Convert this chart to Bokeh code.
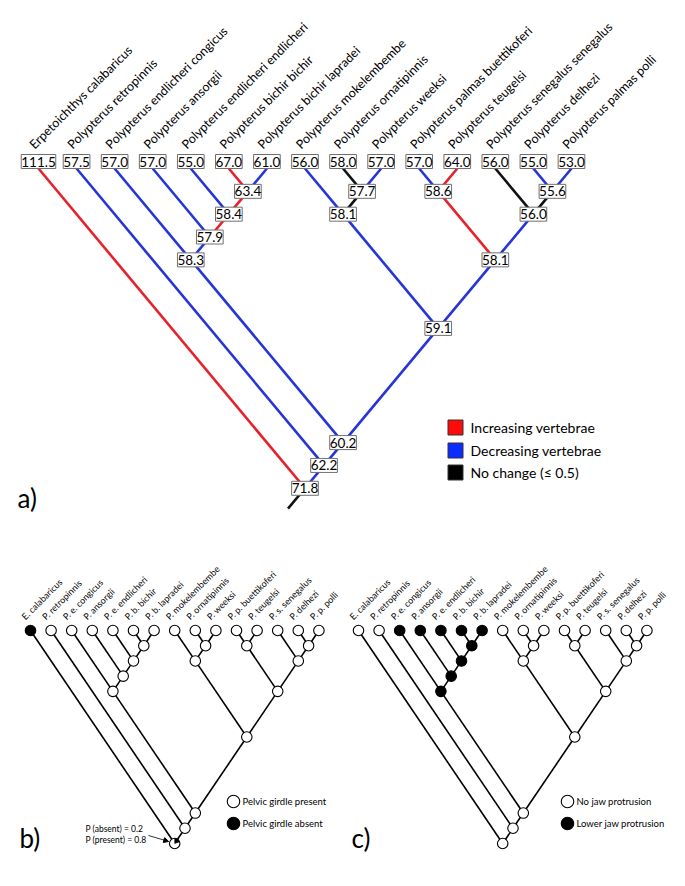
import numpy as np
from bokeh.plotting import figure
from bokeh.models import Range1d, Arrow, NormalHead
from bokeh.core.properties import value
from bokeh.embed import file_html
from bokeh.resources import INLINE

# ---------------- data ----------------
full_names = ["Erpetoichthys calabaricus", "Polypterus retropinnis", "Polypterus endlicheri congicus",
              "Polypterus ansorgii", "Polypterus endlicheri endlicheri", "Polypterus bichir bichir",
              "Polypterus bichir lapradei", "Polypterus mokelembembe", "Polypterus ornatipinnis",
              "Polypterus weeksi", "Polypterus palmas buettikoferi", "Polypterus teugelsi",
              "Polypterus senegalus senegalus", "Polypterus delhezi", "Polypterus palmas polli"]
short_names = ["E. calabaricus", "P. retropinnis", "P. e. congicus", "P. ansorgii", "P. e. endlicheri",
               "P. b. bichir", "P. b. lapradei", "P. mokelembembe", "P. ornatipinnis", "P. weeksi",
               "P. p. buettikoferi", "P. teugelsi", "P. s. senegalus", "P. delhezi", "P. p. polli"]
leaf_vertebrae = [111.5, 57.5, 57.0, 57.0, 55.0, 67.0, 61.0, 56.0, 58.0, 57.0, 57.0, 64.0, 56.0, 55.0, 53.0]
leaf_change = ["inc", "dec", "dec", "dec", "dec", "inc", "dec", "dec", "none", "dec", "dec", "inc", "none", "dec", "dec"]

# internal clades (first leaf, last leaf); the first one is the root
clade_first = [0, 1, 2, 2, 3, 4, 5, 7, 7, 8, 10, 10, 12, 13]
clade_last = [14, 14, 14, 6, 6, 6, 6, 14, 9, 9, 14, 11, 14, 14]
clade_vertebrae = [71.8, 62.2, 60.2, 58.3, 57.9, 58.4, 63.4, 59.1, 58.1, 57.7, 58.1, 58.6, 56.0, 55.6]
clade_change = ["none", "dec", "dec", "dec", "dec", "inc", "inc", "dec", "dec", "none", "dec", "inc", "dec", "none"]

pelvic_leaf_absent = [1, 0, 0, 0, 0, 0, 0, 0, 0, 0, 0, 0, 0, 0, 0]
pelvic_clade_absent = [0.2, 0, 0, 0, 0, 0, 0, 0, 0, 0, 0, 0, 0, 0]
jaw_leaf = [0, 0, 1, 1, 1, 1, 1, 0, 0, 0, 0, 0, 0, 0, 0]
jaw_clade = [0, 0, 0, 1, 1, 1, 1, 0, 0, 0, 0, 0, 0, 0]

legend_a = ["Increasing vertebrae", "Decreasing vertebrae", "No change (\u2264 0.5)"]
legend_a_keys = ["inc", "dec", "none"]
legend_b = ["Pelvic girdle present", "Pelvic girdle absent"]
legend_c = ["No jaw protrusion", "Lower jaw protrusion"]
root_note = ["P (absent) = 0.2", "P (present) = 0.8"]

# ---------------- styles ----------------
change_color = {"inc": "#e8202a", "dec": "#2535d8", "none": "#111111"}
legend_fill = {"inc": "#ff0a0a", "dec": "#0a2cff", "none": "#000000"}
FONT = "Lato"

n_leaf = len(full_names)
nodes = [(i, i) for i in range(n_leaf)] + list(zip(clade_first, clade_last))


def parent_of(k):
    f, l = nodes[k]
    best, best_span = None, None
    for j in range(n_leaf, len(nodes)):
        if j == k:
            continue
        a, b = nodes[j]
        if a <= f and l <= b and (b - a) > (l - f):
            if best is None or (b - a) < best_span:
                best, best_span = j, b - a
    return best


parents = [parent_of(k) for k in range(len(nodes))]
root = n_leaf


def layout(x0, dx, y0, slope):
    xs, ys = [], []
    for f, l in nodes:
        xs.append(x0 + dx * (f + l) / 2.0)
        ys.append(y0 + slope * dx * (l - f) / 2.0)
    return xs, ys


p = figure(width=669, height=870, x_range=Range1d(0, 669), y_range=Range1d(870, 0),
           output_backend="svg", toolbar_location=None, min_border=0)
p.axis.visible = False
p.grid.visible = False
p.outline_line_color = None
p.background_fill_color = "white"

# ================= panel a =================
ax, ay = layout(38, 38.07, 168, 1.2)
changes = leaf_change + clade_change
seg = {"x0": [], "y0": [], "x1": [], "y1": [], "c": []}
for k in range(len(nodes)):
    par = parents[k]
    if par is None:
        continue
    seg["x0"].append(ax[k]); seg["y0"].append(ay[k])
    seg["x1"].append(ax[par]); seg["y1"].append(ay[par])
    seg["c"].append(change_color[changes[k]])
# root stub
seg["x0"].append(ax[root]); seg["y0"].append(ay[root])
seg["x1"].append(ax[root] - 17); seg["y1"].append(ay[root] + 17 * 1.2)
seg["c"].append(change_color[clade_change[0]])
p.segment(x0="x0", y0="y0", x1="x1", y1="y1", color="c", line_width=2.6, source=seg)

# value boxes
vals = ["%.1f" % v for v in leaf_vertebrae + clade_vertebrae]
bx = ax
by = [ay[k] - 7 if k < n_leaf else ay[k] for k in range(len(nodes))]
p.text(x=bx, y=by, text=vals, text_font=value(FONT), text_font_size="13.5px",
       text_align="center", text_baseline="middle", text_color="black",
       background_fill_color="white", border_line_color="#707070", border_line_width=1,
       padding=(0, 2))

# leaf labels
p.text(x=[ax[i] - 7 for i in range(n_leaf)], y=[146] * n_leaf, text=full_names,
       angle=np.pi / 4, text_font=value(FONT), text_font_size="12.5px",
       text_align="left", text_baseline="alphabetic", text_color="black")

# legend a
ly = [427, 450, 472]
p.rect(x=[455] * 3, y=ly, width=15, height=15, fill_color=[legend_fill[k] for k in legend_a_keys],
       line_color="#333333", line_width=1)
p.text(x=[470] * 3, y=ly, text=legend_a, text_font=value(FONT), text_font_size="14px",
       text_align="left", text_baseline="middle", text_color="black")
p.text(x=[17], y=[497], text=["a)"], text_font=value(FONT), text_font_size="26px",
       text_align="left", text_baseline="middle", text_color="black")


# ================= panels b, c =================
def small_tree(x0, leaf_state, clade_state, legend_labels, letter, legend_x, letter_x):
    sx, sy = layout(x0, 20.6, 630, 1.477)
    s = {"x0": [], "y0": [], "x1": [], "y1": []}
    for k in range(len(nodes)):
        par = parents[k]
        if par is None:
            continue
        s["x0"].append(sx[k]); s["y0"].append(sy[k])
        s["x1"].append(sx[par]); s["y1"].append(sy[par])
    p.segment(x0="x0", y0="y0", x1="x1", y1="y1", color="black", line_width=1.6, source=s)
    states = list(leaf_state) + list(clade_state)
    fills = ["black" if st >= 0.5 else "white" for st in states]
    p.scatter(x=sx, y=sy, size=10.5, marker="circle", fill_color=fills, line_color="black", line_width=1.1)
    p.text(x=[sx[i] - 7.5 for i in range(n_leaf)], y=[617.5] * n_leaf, text=short_names,
           angle=np.pi / 4, text_font=value(FONT), text_font_size="9px",
           text_align="left", text_baseline="alphabetic", text_color="black")
    p.scatter(x=[legend_x] * 2, y=[801, 823], size=12.5, marker="circle",
              fill_color=["white", "black"], line_color="black", line_width=1.1)
    p.text(x=[legend_x + 9] * 2, y=[801, 823], text=legend_labels, text_font=value(FONT),
           text_font_size="9.5px", text_align="left", text_baseline="middle", text_color="black")
    p.text(x=[letter_x], y=[837], text=[letter], text_font=value(FONT), text_font_size="26px",
           text_align="left", text_baseline="middle", text_color="black")
    return sx, sy


bx_, by_ = small_tree(30, pelvic_leaf_absent, pelvic_clade_absent, legend_b, "b)", 233, 19)
# root pie: fraction absent drawn as black wedge (top-right of the root circle)
frac = pelvic_clade_absent[0]
p.wedge(x=[bx_[root]], y=[by_[root]], radius=5, start_angle=np.pi / 2 - 2 * np.pi * frac,
        end_angle=np.pi / 2, fill_color="black", line_color="black", line_width=0.5)
p.text(x=[85, 85], y=[828, 839], text=root_note, text_font=value(FONT), text_font_size="8.5px",
       text_align="left", text_baseline="middle", text_color="black")
p.add_layout(Arrow(end=NormalHead(size=5, fill_color="black", line_color="black"),
                   x_start=148, y_start=835, x_end=bx_[root] - 6, y_end=by_[root] - 2,
                   line_width=0.8, line_color="black"))

small_tree(358, jaw_leaf, jaw_clade, legend_c, "c)", 567, 351)

open("out.html", "w").write(file_html(p, INLINE))
